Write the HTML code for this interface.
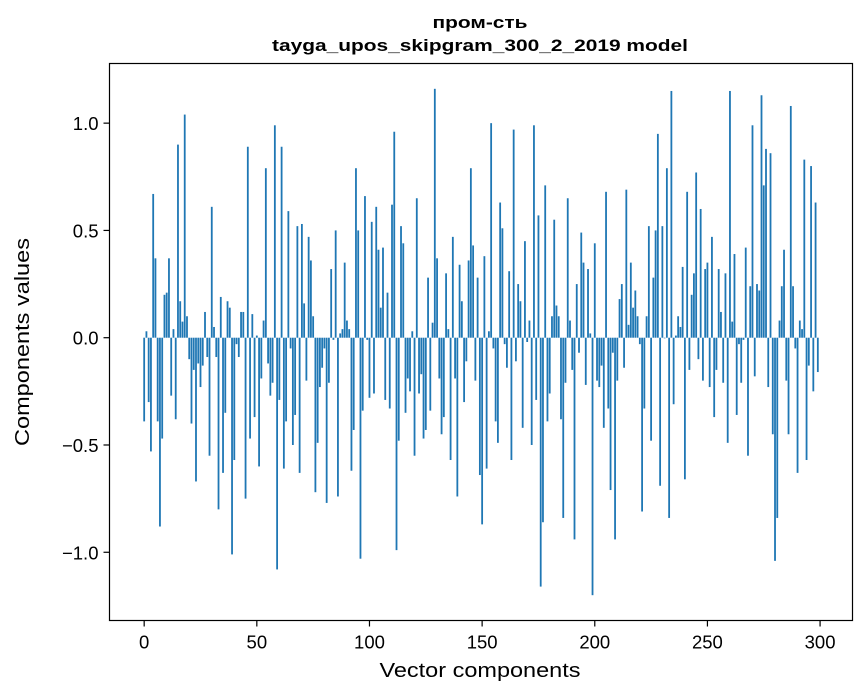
<!DOCTYPE html>
<html><head><meta charset="utf-8"><style>
body{margin:0;background:#fff;}
svg{display:block;font-family:"Liberation Sans","DejaVu Sans",sans-serif;}
</style></head><body>
<svg id="chart" width="867" height="696" viewBox="0 0 867 696" xmlns="http://www.w3.org/2000/svg">
<rect width="867" height="696" fill="#fff"/>
<text x="480" y="28" text-anchor="middle" font-size="17" font-weight="bold" textLength="95" lengthAdjust="spacingAndGlyphs">пром-сть</text>
<text x="480" y="51" text-anchor="middle" font-size="17" font-weight="bold" textLength="416" lengthAdjust="spacingAndGlyphs">tayga_upos_skipgram_300_2_2019 model</text>
<g id="bars"></g>
<rect x="109.5" y="63.5" width="743" height="557" fill="none" stroke="#000" stroke-width="1.2"/>
<g id="xticks"></g>
<g id="yticks"></g>
<text x="480" y="677" text-anchor="middle" font-size="20" textLength="201" lengthAdjust="spacingAndGlyphs">Vector components</text>
<text transform="translate(29,342) rotate(-90)" text-anchor="middle" font-size="20" textLength="208" lengthAdjust="spacingAndGlyphs">Components values</text>
</svg>
<script>
const values = [-0.39,0.03,-0.30,-0.53,0.67,0.37,-0.39,-0.88,-0.47,0.20,0.21,0.37,-0.27,0.04,-0.38,0.90,0.17,0.075,1.04,0.10,-0.10,
-0.40,-0.15,-0.67,-0.12,-0.23,-0.13,0.12,-0.09,-0.55,0.61,0.05,-0.09,-0.80,0.19,-0.63,-0.35,0.17,0.14,-1.01,-0.57,-0.03,-0.09,0.12,0.12,-0.75,0.89,-0.47,0.11,-0.37,0.01,
-0.60,-0.19,0.08,0.79,-0.12,-0.27,-0.21,0.99,-1.08,-0.29,0.89,-0.61,-0.39,0.59,-0.05,-0.50,-0.36,0.52,-0.63,0.53,0.16,-0.20,0.47,0.36,0.10,-0.72,-0.49,-0.23,-0.14,-0.05,-0.77,-0.21,0.32,-0.01,0.50,-0.74,0.02,0.04,0.35,0.08,0.04,-0.62,-0.43,0.79,0.50,-1.03,-0.34,0.66,-0.01,
-0.28,0.54,-0.26,0.61,0.41,0.14,0.42,-0.29,0.21,-0.33,0.62,0.96,-0.99,-0.48,0.52,0.44,-0.35,-0.19,-0.25,0.03,-0.55,0.65,-0.26,-0.17,-0.47,-0.43,0.28,-0.34,0.07,1.16,0.37,-0.19,-0.45,-0.37,0.30,0.04,-0.57,0.47,-0.19,-0.74,0.34,0.17,-0.30,-0.11,0.36,0.79,0.43,-0.20,0.28,-0.64,
-0.87,0.38,-0.61,0.03,1.00,-0.05,-0.39,-0.49,0.63,0.51,-0.03,-0.14,0.31,-0.57,0.97,-0.11,0.25,0.17,-0.42,0.45,-0.02,0.08,-0.50,0.99,-0.29,0.57,-1.16,-0.86,0.71,-0.39,-0.26,0.10,0.55,0.15,0.10,-0.38,-0.84,-0.21,0.65,0.08,-0.15,-0.94,0.25,-0.07,0.49,0.35,-0.22,0.32,0.02,-1.20,
0.44,-0.20,-0.23,-0.13,-0.42,0.68,-0.33,-0.71,-0.07,-0.94,-0.20,0.18,0.25,-0.14,0.69,0.06,0.35,0.14,0.22,0.10,-0.03,-0.81,-0.33,0.10,0.52,-0.48,0.28,0.50,0.95,-0.69,0.52,-0.003,0.79,-0.84,1.15,-0.31,0.01,0.10,0.05,0.33,-0.66,0.68,-0.15,0.20,0.30,0.77,-0.10,0.60,-0.20,0.32,
0.35,-0.23,0.47,-0.37,-0.15,0.32,0.12,-0.21,0.30,-0.49,1.15,0.075,0.39,-0.36,-0.03,-0.21,-0.01,0.42,-0.55,0.24,0.99,-0.18,0.25,0.22,1.13,0.71,0.88,-0.23,0.86,-0.45,-1.04,-0.84,0.08,0.24,0.41,-0.20,-0.45,1.08,0.24,-0.05,-0.63,0.08,0.04,0.83,-0.57,-0.13,0.80,-0.25,0.63,-0.16];
const xTickValues = [0,50,100,150,200,250,300];
const yTickValues = [-1.0,-0.5,0.0,0.5,1.0];
const yTickLabels = ["\u22121.0","\u22120.5","0.0","0.5","1.0"];

const NS="http://www.w3.org/2000/svg";
const L=109.5,R=852.5,T=63.5,B=620.5;
const n=values.length;
const xmin=-0.4,xmax=(n-1)+0.4,xm=(xmax-xmin)*0.05;
const x0=xmin-xm,x1=xmax+xm;
let vmin=Math.min(0,...values),vmax=Math.max(0,...values);
const ym=(vmax-vmin)*0.05;
const y0=vmin-ym,y1=vmax+ym;
function sx(v){return L+(v-x0)/(x1-x0)*(R-L);}
function sy(v){return B-(v-y0)/(y1-y0)*(B-T);}
const bars=document.getElementById('bars');
values.forEach((v,i)=>{
  const r=document.createElementNS(NS,'rect');
  const xa=sx(i-0.4),xb=sx(i+0.4);
  const ya=sy(Math.max(v,0)),yb=sy(Math.min(v,0));
  r.setAttribute('x',xa);r.setAttribute('width',xb-xa);
  r.setAttribute('y',ya);r.setAttribute('height',Math.max(yb-ya,0));
  r.setAttribute('fill','#1f77b4');
  
  
  bars.appendChild(r);
});
const xg=document.getElementById('xticks');
xTickValues.forEach(t=>{
  const x=sx(t);
  const l=document.createElementNS(NS,'line');
  l.setAttribute('x1',x);l.setAttribute('x2',x);l.setAttribute('y1',B);l.setAttribute('y2',B+6);
  l.setAttribute('stroke','#000');l.setAttribute('stroke-width','1.2');
  
  
  xg.appendChild(l);
  const tx=document.createElementNS(NS,'text');
  tx.setAttribute('x',x);tx.setAttribute('y',B+28);tx.setAttribute('text-anchor','middle');tx.setAttribute('font-size','18.5');
  tx.textContent=String(t);
  
  
  xg.appendChild(tx);
});
const yg=document.getElementById('yticks');
yTickValues.forEach((t,i)=>{
  const y=sy(t);
  const l=document.createElementNS(NS,'line');
  l.setAttribute('x1',L-6);l.setAttribute('x2',L);l.setAttribute('y1',y);l.setAttribute('y2',y);
  l.setAttribute('stroke','#000');l.setAttribute('stroke-width','1.2');
  
  
  yg.appendChild(l);
  const tx=document.createElementNS(NS,'text');
  tx.setAttribute('x',L-11);tx.setAttribute('y',y+7);tx.setAttribute('text-anchor','end');tx.setAttribute('font-size','18.5');
  tx.textContent=yTickLabels[i];
  
  
  yg.appendChild(tx);
});
</script>
</body></html>
